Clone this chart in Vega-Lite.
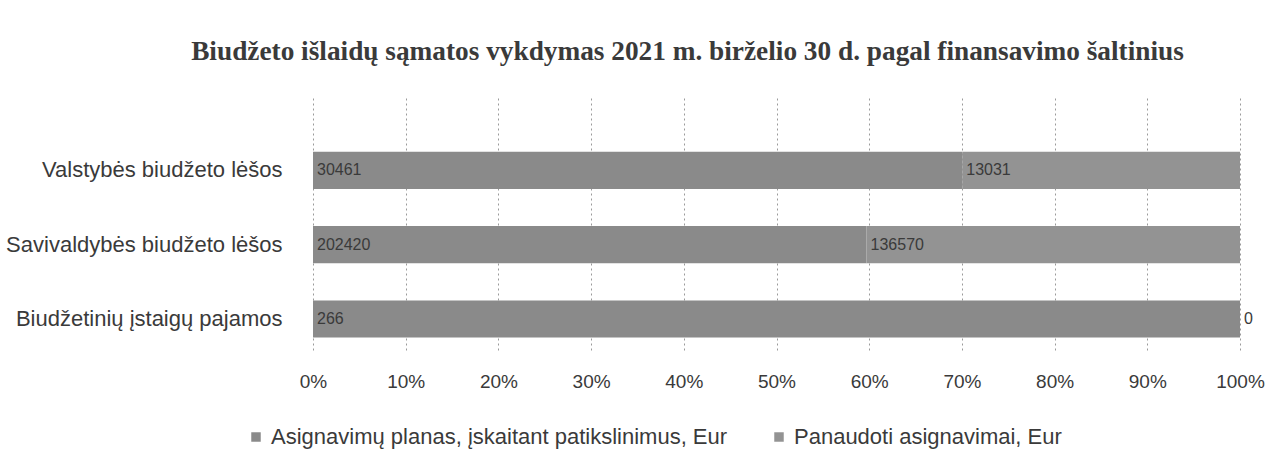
{
  "$schema": "https://vega.github.io/schema/vega-lite/v6.json",
  "width": 927,
  "height": 255,
  "autosize": {"type": "none"},
  "padding": {"left": 313, "top": 95, "right": 45, "bottom": 118},
  "background": "#ffffff",
  "title": {
    "text": "Biudžeto išlaidų sąmatos vykdymas 2021 m. birželio 30 d. pagal finansavimo šaltinius",
    "font": "Liberation Serif",
    "fontSize": 27.3,
    "fontWeight": "bold",
    "color": "#3a3a3a",
    "anchor": "middle",
    "dx": -89,
    "offset": 30
  },
  "data": {
    "values": [
      {"source": "Valstybės biudžeto lėšos", "series": "Asignavimų planas, įskaitant patikslinimus, Eur", "value": 30461},
      {"source": "Valstybės biudžeto lėšos", "series": "Panaudoti asignavimai, Eur", "value": 13031},
      {"source": "Savivaldybės biudžeto lėšos", "series": "Asignavimų planas, įskaitant patikslinimus, Eur", "value": 202420},
      {"source": "Savivaldybės biudžeto lėšos", "series": "Panaudoti asignavimai, Eur", "value": 136570},
      {"source": "Biudžetinių įstaigų pajamos", "series": "Asignavimų planas, įskaitant patikslinimus, Eur", "value": 266},
      {"source": "Biudžetinių įstaigų pajamos", "series": "Panaudoti asignavimai, Eur", "value": 0}
    ]
  },
  "transform": [
    {"stack": "value", "groupby": ["source"], "sort": [{"field": "series", "order": "ascending"}], "offset": "normalize", "as": ["x0", "x1"]}
  ],
  "encoding": {
    "y": {
      "field": "source",
      "type": "nominal",
      "sort": ["Valstybės biudžeto lėšos", "Savivaldybės biudžeto lėšos", "Biudžetinių įstaigų pajamos"],
      "scale": {"paddingInner": 0.5, "paddingOuter": 0.466, "align": 0.82},
      "axis": {
        "title": null,
        "domain": false,
        "ticks": false,
        "labelFont": "Liberation Sans",
        "labelFontSize": 22,
        "labelColor": "#3a3a3a",
        "labelPadding": 31,
        "labelLimit": 320
      }
    }
  },
  "layer": [
    {
      "mark": {"type": "bar"},
      "encoding": {
        "x": {
          "field": "x0",
          "type": "quantitative",
          "scale": {"domain": [0, 1], "nice": false},
          "axis": {
            "title": null,
            "format": ".0%",
            "values": [0, 0.1, 0.2, 0.3, 0.4, 0.5, 0.6, 0.7, 0.8, 0.9, 1],
            "labelOverlap": false,
            "labelFlush": false,
            "domain": false,
            "ticks": false,
            "grid": true,
            "gridColor": "#9a9a9a",
            "gridDash": [2, 3],
            "gridWidth": 1,
            "labelFont": "Liberation Sans",
            "labelFontSize": 19,
            "labelColor": "#3a3a3a",
            "labelPadding": 22
          }
        },
        "x2": {"field": "x1"},
        "color": {
          "field": "series",
          "type": "nominal",
          "scale": {
            "domain": ["Asignavimų planas, įskaitant patikslinimus, Eur", "Panaudoti asignavimai, Eur"],
            "range": ["#8a8a8a", "#939393"]
          },
          "legend": {
            "title": null,
            "orient": "none",
            "direction": "horizontal",
            "legendX": -68,
            "legendY": 331,
            "symbolType": "square",
            "symbolSize": 90,
            "symbolStrokeWidth": 0,
            "labelFont": "Liberation Sans",
            "labelFontSize": 22,
            "labelColor": "#3a3a3a",
            "labelOffset": 4,
            "columnPadding": 40,
            "labelLimit": 700
          }
        }
      }
    },
    {
      "mark": {"type": "text", "align": "left", "baseline": "middle", "dx": 4, "font": "Liberation Sans", "fontSize": 16, "color": "#3a3a3a"},
      "encoding": {
        "x": {"field": "x0", "type": "quantitative"},
        "text": {"field": "value", "type": "quantitative", "format": "d"}
      }
    }
  ],
  "config": {
    "view": {"stroke": null}
  }
}
